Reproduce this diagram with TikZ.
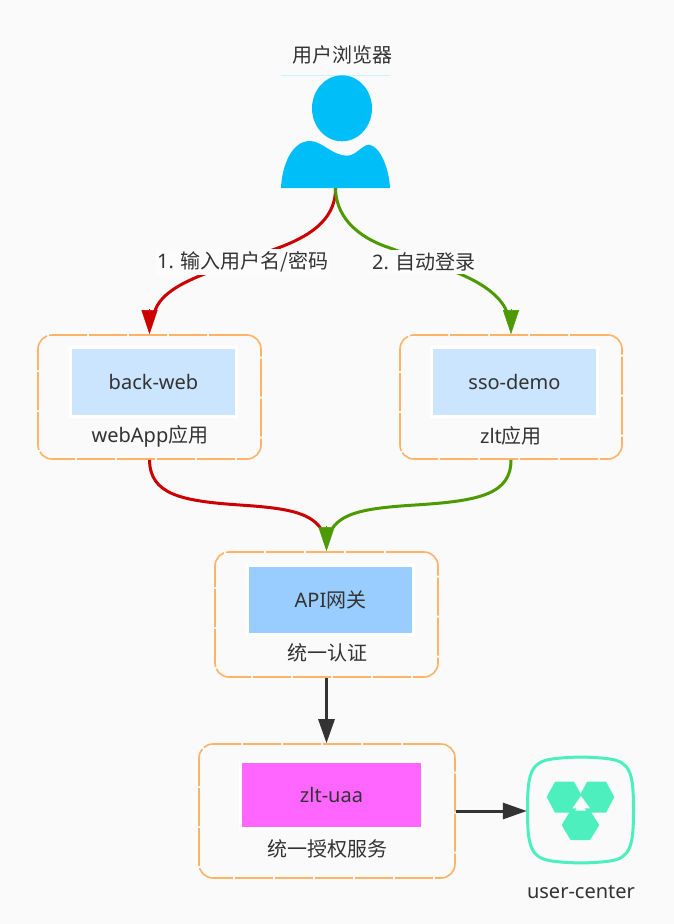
\documentclass[tikz,border=0pt]{standalone}
\usepackage{fontspec}
\setmainfont{Noto Sans}
\newfontfamily\cjk{Noto Sans CJK SC}
\usetikzlibrary{arrows.meta}
\definecolor{pagebg}{HTML}{FAFAFA}
\definecolor{txt}{HTML}{333333}
\definecolor{orangeb}{HTML}{FFB366}
\definecolor{userblue}{HTML}{00BEF7}
\definecolor{redline}{HTML}{CC0000}
\definecolor{greenline}{HTML}{4D9900}
\definecolor{lightblue}{HTML}{CCE5FF}
\definecolor{midblue}{HTML}{99CCFF}
\definecolor{pinkbox}{HTML}{FF66FF}
\definecolor{mint}{HTML}{4DEFBE}
\newcommand{\lowertext}[1]{\raisebox{-3.5pt}{#1}}
\tikzset{
  x=1pt,y=-1pt,
  txtstyle/.style={text=txt,font=\fontsize{20}{24}\selectfont,inner sep=0pt},
  outerbox/.style={draw=orangeb,line width=1.6pt,rounded corners=14pt,dash pattern=on 38pt off 2pt,inner sep=0pt},
  innerbox/.style={draw=white,line width=3pt,txtstyle,inner sep=0pt},
  linkline/.style={line width=3pt},
  linkbase/.style={line width=3pt,-{Triangle[length=24pt,width=16pt]}},
  tiponly/.style={line width=0.4pt,-{Triangle[length=24pt,width=16pt]}},
  darklink/.style={linkbase,draw=txt},
  edgelabel/.style={txtstyle,fill=white!50!pagebg,inner xsep=1pt,inner ysep=3pt},
}
\begin{document}
\begin{tikzpicture}
\useasboundingbox (0,0) rectangle (674,924);
\fill[pagebg] (0,0) rectangle (674,924);

% user icon
\node[minimum width=109pt,minimum height=113pt,inner sep=0pt] (user) at (335.5,131.5) {};
\draw[userblue!20,line width=0.8pt] (281,75) -- (390,75);
\fill[userblue] (342,108.3) ellipse [x radius=30,y radius=33];
\fill[userblue] (281,188)
  .. controls (282,165) and (292,141) .. (310,141)
  .. controls (322,141) and (332,155.5) .. (347,155.7)
  .. controls (356,155.7) and (362,145) .. (369,144.7)
  .. controls (380,146) and (389,168) .. (390,188) -- cycle;
\node[txtstyle] (usertext) at (342,55) {\cjk 用户浏览器};

% boxes
\node[outerbox,minimum width=223pt,minimum height=124pt] (webapp) at (149.5,397) {};
\node[innerbox,fill=lightblue,minimum width=166pt,minimum height=69pt] (backweb) at (153.5,382) {\lowertext{back-web}};
\node[txtstyle] (webapptext) at (150,436) {webApp{\cjk 应用}};

\node[outerbox,minimum width=222pt,minimum height=124pt] (zlt) at (511,397) {};
\node[innerbox,fill=lightblue,minimum width=166pt,minimum height=69pt] (ssodemo) at (514.5,382) {\lowertext{sso-demo}};
\node[txtstyle] (zlttext) at (511,436) {zlt{\cjk 应用}};

\node[outerbox,minimum width=223pt,minimum height=125pt] (api) at (326.5,614.5) {};
\node[innerbox,fill=midblue,minimum width=166pt,minimum height=69pt] (gateway) at (330.5,600) {\lowertext{API{\cjk 网关}}};
\node[txtstyle] (apitext) at (327,653) {\cjk 统一认证};

\node[outerbox,minimum width=256pt,minimum height=134pt] (uaa) at (327,811) {};
\node[innerbox,fill=pinkbox,minimum width=182pt,minimum height=67pt] (zltuaa) at (331.5,794.5) {\lowertext{zlt-uaa}};
\node[txtstyle] (uaatext) at (327,849) {\cjk 统一授权服务};

% user-center icon
\node[minimum width=107pt,minimum height=108pt,inner sep=0pt] (ucenter) at (580.5,810) {};
\draw[mint,line width=3pt] (527.5,810)
  .. controls (527.5,775) and (530,762) .. (552,759)
  .. controls (570,756.5) and (592,756.5) .. (610,759)
  .. controls (631,762) and (633.5,775) .. (633.5,810)
  .. controls (633.5,845) and (631,858) .. (610,861)
  .. controls (592,863.5) and (570,863.5) .. (552,861)
  .. controls (530,858) and (527.5,845) .. (527.5,810) -- cycle;
\fill[mint] (546.7,797) -- (555,781.7) -- (574,781.7) -- (582.5,797) -- (574,812.7) -- (555,812.7) -- cycle;
\fill[mint] (579,797) -- (587,781.7) -- (606,781.7) -- (614.3,797) -- (606,812.7) -- (587,812.7) -- cycle;
\fill[mint] (561.7,825) -- (570.5,810.5) -- (590,810.5) -- (599.3,825) -- (590,840) -- (570.5,840) -- cycle;
\fill[pagebg] (572.3,808.3) -- (590,808.3) -- (581,796) -- cycle;
\node[txtstyle] (uctext) at (581,892) {user-center};

% tip bases (free ends of the curved connectors)
\coordinate (taRed) at (155,311);
\coordinate (taGreen) at (506.5,311);
\coordinate (tbRed) at (320.5,528);
\coordinate (tbGreen) at (332.5,528);

% connectors
\draw[linkline,redline] (user.south)
  .. controls (336,222) and (305,238) .. (278,248)
  -- (208,272.7)
  .. controls (180,283) and (160,295) .. (taRed);
\draw[tiponly,redline] ([yshift=25pt]webapp.north) -- (webapp.north);
\draw[linkline,greenline] (user.south)
  .. controls (336,222) and (365,240) .. (390,248)
  -- (457,272.7)
  .. controls (480,282) and (500,295) .. (taGreen);
\draw[tiponly,greenline] ([yshift=25pt]zlt.north) -- (zlt.north);
\node[edgelabel] (loginlabel) at (243,262) {1. {\cjk 输入用户名/密码}};
\node[edgelabel] (autolabel) at (424,262) {2. {\cjk 自动登录}};
\draw[linkline,redline] (webapp.south)
  .. controls (150,494) and (180,501) .. (240,505)
  .. controls (285,508) and (309,512) .. (tbRed);
\draw[linkline,greenline] (zlt.south)
  .. controls (511,494) and (480,501) .. (415,505)
  .. controls (368,508) and (344,512) .. (tbGreen);
\draw[tiponly,greenline] ([yshift=25pt]api.north) -- (api.north);
\draw[darklink] (api.south) -- (api.south |- uaa.north);
\draw[darklink] (uaa.east) -- (uaa.east -| ucenter.west);
\end{tikzpicture}
\end{document}
